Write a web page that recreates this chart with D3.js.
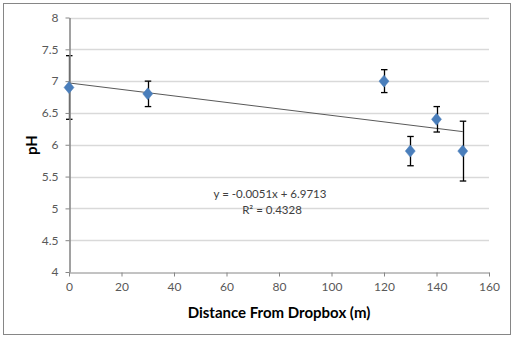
<!DOCTYPE html>
<html><head><meta charset="utf-8">
<script src="https://cdn.jsdelivr.net/npm/d3@7"></script>
<style>body{margin:0;background:#fff}svg{display:block}</style>
</head><body>
<script>
const distances = [0, 30, 120, 130, 140, 150];
const phValues = [6.9, 6.8, 7.0, 5.9, 6.4, 5.9];
const phErrors = [0.5, 0.2, 0.18, 0.23, 0.2, 0.47];
const xTicks = [0, 20, 40, 60, 80, 100, 120, 140, 160];
const yTicks = [4, 4.5, 5, 5.5, 6, 6.5, 7, 7.5, 8];
const trendSlope = -0.0051, trendIntercept = 6.9713;
const trendLabel = "y = -0.0051x + 6.9713";
const r2Label = "R² = 0.4328";

const W = 515, H = 340;
const svg = d3.select("body").append("svg").attr("width", W).attr("height", H);
svg.append("rect").attr("x", 3.5).attr("y", 3.5).attr("width", 507).attr("height", 331)
  .attr("fill", "#fff").attr("stroke", "#868686").attr("stroke-width", 1);

const x = d3.scaleLinear().domain([0, 160]).range([69, 489]);
const y = d3.scaleLinear().domain([4, 8]).range([272, 17.5]);
const font = "Lato, 'Open Sans', sans-serif";

// gridlines
svg.append("g").selectAll("line").data(yTicks.slice(1)).join("line")
  .attr("x1", x(0)).attr("x2", x(160))
  .attr("y1", d => Math.round(y(d)) + 0.5).attr("y2", d => Math.round(y(d)) + 0.5)
  .attr("stroke", "#d9d9d9").attr("stroke-width", 1.3);

// trendline
svg.append("line")
  .attr("x1", x(0)).attr("y1", y(trendIntercept))
  .attr("x2", x(150)).attr("y2", y(trendSlope * 150 + trendIntercept))
  .attr("stroke", "#595959").attr("stroke-width", 1);

// error bars
const data = distances.map((d, i) => ({x: d, y: phValues[i], e: phErrors[i]}));
const eb = svg.append("g").selectAll("g").data(data).join("g");
eb.append("line").attr("x1", d => Math.round(x(d.x)) + 0.5).attr("x2", d => Math.round(x(d.x)) + 0.5)
  .attr("y1", d => y(d.y + d.e)).attr("y2", d => y(d.y - d.e))
  .attr("stroke", "#000").attr("stroke-width", 1.3);
eb.append("line").attr("x1", d => x(d.x) - 3).attr("x2", d => x(d.x) + 3.5)
  .attr("y1", d => y(d.y + d.e)).attr("y2", d => y(d.y + d.e))
  .attr("stroke", "#000").attr("stroke-width", 1.3);
eb.append("line").attr("x1", d => x(d.x) - 3).attr("x2", d => x(d.x) + 3.5)
  .attr("y1", d => y(d.y - d.e)).attr("y2", d => y(d.y - d.e))
  .attr("stroke", "#000").attr("stroke-width", 1.3);

// axes (drawn over the error bars, as in the reference)
const xAxis = svg.append("g").attr("transform", `translate(0,${Math.round(y(4)) + 0.5})`)
  .call(d3.axisBottom(x).tickValues(xTicks).tickSize(4).tickSizeOuter(0).tickPadding(6));
const yAxis = svg.append("g").attr("transform", `translate(${x(0) + 0.5},0)`)
  .call(d3.axisLeft(y).tickValues(yTicks).tickSize(4).tickSizeOuter(0).tickPadding(7).tickFormat(d => d));
[xAxis, yAxis].forEach(g => {
  g.selectAll(".tick line").attr("stroke", "#868686");
  g.selectAll(".tick text").attr("fill", "#595959").attr("font-family", font).attr("font-size", 12);
});
xAxis.select(".domain").attr("stroke", "#868686");
yAxis.select(".domain").attr("stroke", "#8a8a8a").attr("stroke-width", 1.6);

// markers
svg.append("g").selectAll("path").data(data).join("path")
  .attr("d", d => { const cx = x(d.x), cy = y(d.y);
    return `M${cx},${cy - 6}L${cx + 5},${cy}L${cx},${cy + 6}L${cx - 5},${cy}Z`; })
  .attr("fill", "#4a7ebb").attr("stroke", "#4a7ebb").attr("stroke-width", 0.5);

// trend labels
svg.append("text").attr("x", 270).attr("y", 198).attr("text-anchor", "middle")
  .attr("font-family", font).attr("font-size", 11.5).attr("fill", "#404040").text(trendLabel);
svg.append("text").attr("x", 272).attr("y", 214).attr("text-anchor", "middle")
  .attr("font-family", font).attr("font-size", 11.5).attr("fill", "#404040").text(r2Label);

// axis titles
svg.append("text").attr("x", 279).attr("y", 318).attr("text-anchor", "middle")
  .attr("font-family", font).attr("font-size", 15).attr("font-weight", "bold").attr("fill", "#000")
  .text("Distance From Dropbox (m)");
svg.append("text").attr("transform", "translate(37,145) rotate(-90)").attr("text-anchor", "middle")
  .attr("font-family", font).attr("font-size", 15).attr("font-weight", "bold").attr("fill", "#000")
  .text("pH");
</script>
</body></html>
